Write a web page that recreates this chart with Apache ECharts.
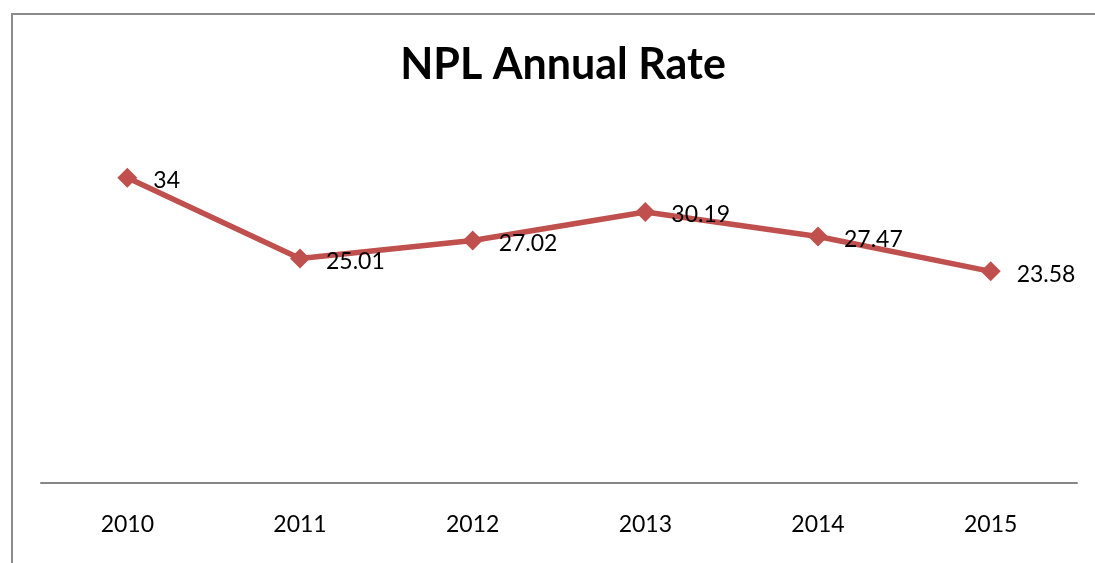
<!DOCTYPE html>
<html><head><meta charset="utf-8">
<script src="https://cdn.jsdelivr.net/npm/echarts@6/dist/echarts.min.js"></script>
<style>html,body{margin:0;padding:0;background:#fff}#c{width:1095px;height:563px}</style>
</head><body><div id="c"></div>
<script>
const titleText = 'NPL Annual Rate';
const years = ['2010','2011','2012','2013','2014','2015'];
const nplRate = [34, 25.01, 27.02, 30.19, 27.47, 23.58];
const yMin = 0, yMax = 40;

const chart = echarts.init(document.getElementById('c'));
chart.setOption({
  animation: false,
  backgroundColor: '#ffffff',
  title: {
    text: titleText, left: 558, top: 39, textAlign: 'center',
    textStyle: {fontFamily: 'Lato', fontWeight: 'bold', fontSize: 43, color: '#000'}
  },
  grid: {left: 41, right: 18, top: 124, bottom: 80},
  xAxis: {
    type: 'category', data: years, boundaryGap: true,
    axisLine: {lineStyle: {color: '#868686', width: 2}},
    axisTick: {show: false},
    axisLabel: {fontFamily: 'Lato', fontSize: 23, color: '#000', margin: 30}
  },
  yAxis: {type: 'value', min: yMin, max: yMax, show: false, splitLine: {show: false}},
  series: [{
    type: 'line', data: nplRate,
    symbol: 'diamond', symbolSize: 20,
    lineStyle: {color: '#C0504D', width: 5.5},
    itemStyle: {color: '#C0504D'},
    label: {show: true, position: 'right', distance: 16, offset: [0, 3],
      fontFamily: 'Lato', fontSize: 23, color: '#000'}
  }],
  graphic: [
    {type: 'line', shape: {x1: 12, y1: 13, x2: 12, y2: 563}, style: {stroke: '#8a8a8a', lineWidth: 2}},
    {type: 'line', shape: {x1: 11, y1: 14, x2: 1095, y2: 14}, style: {stroke: '#8a8a8a', lineWidth: 2}}
  ]
});
</script></body></html>
